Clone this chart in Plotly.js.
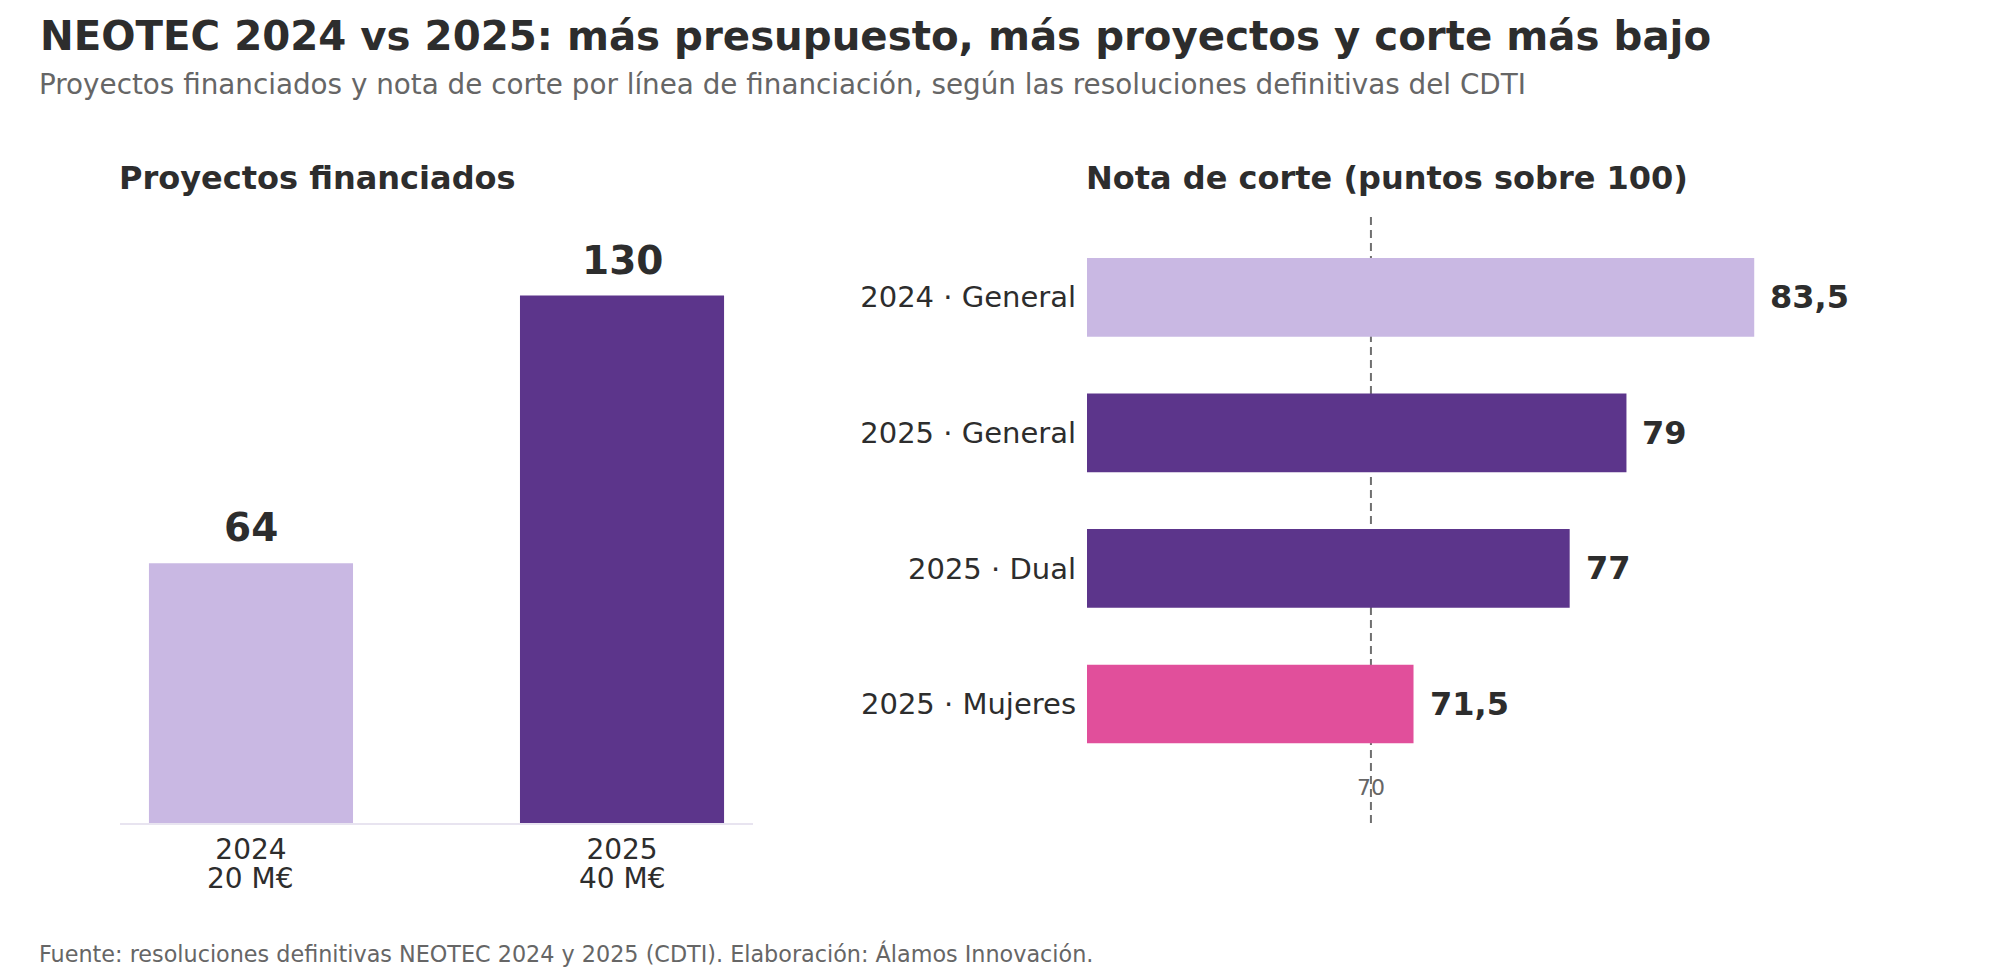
<!DOCTYPE html>
<html>
<head>
<meta charset="utf-8">
<script src="https://cdn.plot.ly/plotly-3.0.1.min.js"></script>
<style>
  html, body { margin: 0; padding: 0; background: #ffffff; }
  #chart { width: 2000px; height: 980px; }
</style>
</head>
<body>
<div id="chart"></div>
<script>
// ---- Data ----
const projYears = ['2024', '2025'];
const projBudget = ['20 M€', '40 M€'];
const projCount = [64, 130];

const cutLines = ['2024 · General', '2025 · General', '2025 · Dual', '2025 · Mujeres'];
const cutScores = [83.5, 79, 77, 71.5];
const cutThreshold = 70;

const titleText = 'NEOTEC 2024 vs 2025: más presupuesto, más proyectos y corte más bajo';
const subtitleText = 'Proyectos financiados y nota de corte por línea de financiación, según las resoluciones definitivas del CDTI';
const leftPanelTitle = 'Proyectos financiados';
const rightPanelTitle = 'Nota de corte (puntos sobre 100)';
const footerText = 'Fuente: resoluciones definitivas NEOTEC 2024 y 2025 (CDTI). Elaboración: Álamos Innovación.';

// ---- Styles ----
const FONT = 'DejaVu Sans, Verdana, sans-serif';
const DARK = '#2d2d2d';
const GREY = '#666666';
const LIGHT = '#c9b8e3';
const PURPLE = '#5c358b';
const PINK = '#e14f9b';
const projColors = [LIGHT, PURPLE];
const cutColors = [LIGHT, PURPLE, PURPLE, PINK];

const W = 2000, H = 980;
const px = v => v / W;
const py = v => 1 - v / H;
const fmt = v => String(v).replace('.', ',');
const projIdx = projYears.map((_, i) => i);

const traces = [
  {
    type: 'bar',
    x: projIdx,
    y: projCount,
    xaxis: 'x', yaxis: 'y',
    width: 0.55,
    marker: { color: projColors, line: { width: 0 } },
    hoverinfo: 'skip'
  },
  {
    type: 'bar',
    orientation: 'h',
    y: cutLines,
    x: cutScores,
    xaxis: 'x2', yaxis: 'y2',
    width: 0.58,
    marker: { color: cutColors, line: { width: 0 } },
    hoverinfo: 'skip'
  }
];

const annotations = [];
// subtitle
annotations.push({
  xref: 'paper', yref: 'paper', x: px(37), y: py(84), xanchor: 'left', yanchor: 'middle',
  text: subtitleText, showarrow: false, font: { family: FONT, size: 27.8, color: GREY }
});
// panel titles
annotations.push({
  xref: 'paper', yref: 'paper', x: px(117), y: py(178), xanchor: 'left', yanchor: 'middle',
  text: '<b>' + leftPanelTitle + '</b>', showarrow: false, font: { family: FONT, size: 32, color: DARK }
});
annotations.push({
  xref: 'paper', yref: 'paper', x: px(1084), y: py(178), xanchor: 'left', yanchor: 'middle',
  text: '<b>' + rightPanelTitle + '</b>', showarrow: false, font: { family: FONT, size: 32, color: DARK }
});
// footer
annotations.push({
  xref: 'paper', yref: 'paper', x: px(37), y: py(953), xanchor: 'left', yanchor: 'middle',
  text: footerText, showarrow: false, font: { family: FONT, size: 22.3, color: GREY }
});
// left value labels
projIdx.forEach((c, i) => {
  annotations.push({
    xref: 'x', yref: 'y', x: c, y: projCount[i], xanchor: 'center', yanchor: 'bottom', yshift: 11,
    text: '<b>' + projCount[i] + '</b>', showarrow: false, font: { family: FONT, size: 39, color: DARK }
  });
  // budget line under the year tick label
  annotations.push({
    xref: 'x', yref: 'paper', x: c, y: py(878), xanchor: 'center', yanchor: 'middle',
    text: projBudget[i], showarrow: false, font: { family: FONT, size: 28, color: DARK }
  });
});
// right value labels
cutLines.forEach((c, i) => {
  annotations.push({
    xref: 'x2', yref: 'y2', x: cutScores[i], y: i, xanchor: 'left', yanchor: 'middle', xshift: 14,
    text: '<b>' + fmt(cutScores[i]) + '</b>', showarrow: false, font: { family: FONT, size: 32, color: DARK }
  });
});

const layout = {
  width: W, height: H,
  margin: { l: 0, r: 0, t: 0, b: 0, pad: 0 },
  paper_bgcolor: '#ffffff', plot_bgcolor: '#ffffff',
  showlegend: false,
  font: { family: FONT, color: DARK },
  title: {
    text: '<b>' + titleText + '</b>',
    xref: 'paper', yref: 'paper', x: px(40), y: py(36), xanchor: 'left', yanchor: 'middle',
    font: { family: FONT, size: 40.3, color: DARK }
  },
  xaxis: {
    domain: [px(120), px(753)],
    range: [-0.353, 1.353],
    tickvals: projIdx,
    ticktext: projYears,
    tickfont: { family: FONT, size: 28, color: DARK },
    showline: true, linecolor: '#e8e4f0', linewidth: 2,
    showgrid: false, zeroline: false, ticks: '', fixedrange: true
  },
  yaxis: {
    domain: [py(823), py(216)],
    range: [0, 149.6],
    showticklabels: false, showgrid: false, zeroline: false, showline: false, ticks: '', fixedrange: true
  },
  xaxis2: {
    domain: [px(1087), px(1882)],
    range: [60, 88],
    anchor: 'y2',
    tickvals: [cutThreshold],
    ticktext: [String(cutThreshold)],
    tickfont: { family: FONT, size: 22, color: GREY },
    ticklabelstandoff: 2,
    showline: false, showgrid: false, zeroline: false, ticks: '', fixedrange: true
  },
  yaxis2: {
    domain: [py(770), py(216)],
    type: 'category',
    anchor: 'x2',
    range: [3.487, -0.6],
    tickfont: { family: FONT, size: 29, color: DARK },
    ticklabelstandoff: 10,
    showline: false, showgrid: false, zeroline: false, ticks: '', fixedrange: true
  },
  shapes: [
    {
      type: 'line', xref: 'x2', yref: 'paper',
      x0: cutThreshold, x1: cutThreshold, y0: py(823), y1: py(216),
      line: { color: '#707070', width: 2, dash: '8px,5px' },
      layer: 'below'
    }
  ],
  annotations: annotations
};

Plotly.newPlot('chart', traces, layout, { displayModeBar: false, staticPlot: true });
</script>
</body>
</html>
